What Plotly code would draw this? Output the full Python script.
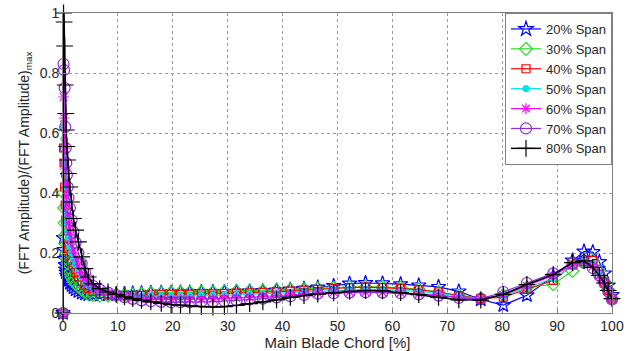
import plotly.graph_objects as go

# Chord positions [% of main blade chord]
chord = [0, 0.1, 0.2, 0.3, 0.4, 0.5, 0.6, 0.7, 0.85,
         1.0, 1.25, 1.55, 1.9, 2.3, 2.8, 3.4, 4.0, 4.6,
         5.5, 6.7, 8.2, 9.7, 11.2, 12.7, 14.3, 16.0, 17.9, 19.7,
         21.4, 23.1, 25.2, 27.3, 29.4, 31.6, 34.0, 36.4, 38.9, 41.4,
         43.9, 46.4, 49.3, 52.2, 55.1, 58.2, 61.5, 64.8, 68.4, 72.1,
         76.1, 80.2, 84.5, 89.3, 92.8, 94.9, 96.5, 97.7, 98.6, 99.3,
         100]

# Normalised FFT amplitude per span station
span20 = [0, 0.25, 0.21, 0.18, 0.16, 0.145, 0.135, 0.125, 0.118,
          0.11, 0.1, 0.092, 0.085, 0.078, 0.072, 0.067, 0.064, 0.062,
          0.061, 0.061, 0.062, 0.063, 0.064, 0.065, 0.066, 0.067, 0.068, 0.068,
          0.069, 0.069, 0.07, 0.07, 0.07, 0.071, 0.072, 0.073, 0.075, 0.078,
          0.081, 0.085, 0.09, 0.098, 0.1, 0.099, 0.096, 0.092, 0.087, 0.072,
          0.045, 0.026, 0.059, 0.122, 0.175, 0.205, 0.203, 0.17, 0.132, 0.092,
          0.06]
span30 = [0, 0.4, 0.35, 0.3, 0.26, 0.23, 0.2, 0.18, 0.165,
          0.15, 0.135, 0.12, 0.108, 0.097, 0.087, 0.078, 0.07, 0.064,
          0.06, 0.058, 0.058, 0.059, 0.06, 0.062, 0.064, 0.066, 0.067, 0.068,
          0.069, 0.069, 0.07, 0.07, 0.071, 0.072, 0.073, 0.074, 0.076, 0.078,
          0.08, 0.082, 0.084, 0.086, 0.087, 0.086, 0.084, 0.079, 0.07, 0.058,
          0.048, 0.06, 0.085, 0.096, 0.14, 0.17, 0.175, 0.14, 0.105, 0.078,
          0.048]
span40 = [0, 0.55, 0.5, 0.42, 0.36, 0.31, 0.28, 0.25, 0.23,
          0.21, 0.19, 0.17, 0.15, 0.135, 0.12, 0.105, 0.092, 0.082,
          0.072, 0.065, 0.06, 0.058, 0.058, 0.058, 0.059, 0.06, 0.061, 0.062,
          0.063, 0.063, 0.064, 0.064, 0.065, 0.066, 0.067, 0.069, 0.071, 0.073,
          0.076, 0.079, 0.082, 0.085, 0.086, 0.085, 0.082, 0.077, 0.07, 0.058,
          0.048, 0.053, 0.079, 0.109, 0.16, 0.172, 0.175, 0.13, 0.1, 0.075,
          0.047]
span50 = [0, 0.62, 0.58, 0.5, 0.42, 0.37, 0.33, 0.3, 0.27,
          0.25, 0.22, 0.2, 0.18, 0.16, 0.14, 0.12, 0.105, 0.093,
          0.08, 0.072, 0.066, 0.062, 0.059, 0.057, 0.056, 0.056, 0.056, 0.056,
          0.057, 0.057, 0.058, 0.058, 0.059, 0.06, 0.062, 0.064, 0.066, 0.068,
          0.07, 0.073, 0.076, 0.078, 0.079, 0.078, 0.076, 0.072, 0.066, 0.055,
          0.048, 0.058, 0.085, 0.115, 0.155, 0.172, 0.165, 0.13, 0.1, 0.075,
          0.047]
span60 = [0, 0.72, 0.65, 0.55, 0.48, 0.43, 0.39, 0.36, 0.33,
          0.3, 0.27, 0.24, 0.21, 0.185, 0.16, 0.135, 0.115, 0.1,
          0.085, 0.074, 0.066, 0.06, 0.055, 0.051, 0.048, 0.046, 0.045, 0.045,
          0.045, 0.045, 0.046, 0.047, 0.048, 0.05, 0.052, 0.055, 0.058, 0.061,
          0.064, 0.067, 0.069, 0.07, 0.07, 0.069, 0.067, 0.064, 0.06, 0.052,
          0.047, 0.06, 0.09, 0.125, 0.16, 0.17, 0.155, 0.125, 0.1, 0.075,
          0.047]
span70 = [0, 0.83, 0.81, 0.75, 0.62, 0.55, 0.5, 0.46, 0.42,
          0.385, 0.35, 0.31, 0.27, 0.235, 0.2, 0.165, 0.135, 0.11,
          0.09, 0.078, 0.068, 0.06, 0.053, 0.047, 0.042, 0.039, 0.037, 0.036,
          0.036, 0.036, 0.037, 0.038, 0.04, 0.042, 0.045, 0.048, 0.052, 0.056,
          0.06, 0.064, 0.066, 0.068, 0.069, 0.068, 0.066, 0.062, 0.058, 0.05,
          0.047, 0.07, 0.1, 0.132, 0.165, 0.168, 0.15, 0.125, 0.1, 0.072,
          0.045]
span80 = [0, 1.0, 0.97, 0.89, 0.76, 0.665, 0.61, 0.555, 0.51,
          0.465, 0.42, 0.37, 0.315, 0.276, 0.237, 0.187, 0.148, 0.12,
          0.098, 0.081, 0.07, 0.062, 0.054, 0.048, 0.042, 0.037, 0.032, 0.028,
          0.026, 0.024, 0.021, 0.02, 0.021, 0.025, 0.031, 0.037, 0.044, 0.052,
          0.058, 0.063, 0.067, 0.072, 0.075, 0.074, 0.068, 0.061, 0.052, 0.044,
          0.043, 0.062, 0.095, 0.128, 0.168, 0.174, 0.152, 0.125, 0.1, 0.075,
          0.048]

names = ["20% Span", "30% Span", "40% Span", "50% Span",
         "60% Span", "70% Span", "80% Span"]
series = [span20, span30, span40, span50, span60, span70, span80]
colors = ["#0000FF", "#22E022", "#FF0000", "#00E5E5",
          "#FF00FF", "#8A2BE2", "#000000"]
symbols = ["star-open", "diamond-open", "square-open", "circle",
           "asterisk-open", "circle-open", "cross-thin-open"]
sizes = [11, 10, 8, 6, 9, 11, 12]

fig = go.Figure()
for name, ys, col, sym, sz in zip(names, series, colors, symbols, sizes):
    fig.add_trace(go.Scatter(
        x=chord, y=ys, name=name, mode="lines+markers",
        line=dict(color=col, width=1.2 if col != "#000000" else 1.5),
        marker=dict(symbol=sym, size=sz, color=col,
                    line=dict(color=col, width=1.2)),
        cliponaxis=False,
    ))

FAMILY = "Liberation Sans, Arial, sans-serif"
INK = "#262626"
tick_font = dict(family=FAMILY, size=14, color=INK)
title_font = dict(family=FAMILY, size=15, color=INK)

axis_common = dict(
    showgrid=True, gridcolor="#9a9a9a", griddash="dot", gridwidth=1,
    zeroline=False, showline=True, linecolor="#808080", linewidth=1,
    mirror=True, ticks="inside", ticklen=4, tickcolor="#808080",
    tickfont=tick_font, automargin=False,
)

fig.update_layout(
    width=631, height=351,
    margin=dict(l=63, r=19, t=13, b=38),
    paper_bgcolor="white", plot_bgcolor="white",
    font=dict(family=FAMILY, size=14, color=INK),
    showlegend=True,
    legend=dict(
        x=1, y=1, xanchor="right", yanchor="top",
        bgcolor="white", bordercolor="#808080", borderwidth=1,
        font=dict(family=FAMILY, size=13, color=INK),
        itemwidth=30, tracegroupgap=0,
    ),
    xaxis=dict(range=[0, 100], dtick=10, tick0=0,
               title=dict(text="Main Blade Chord [%]", standoff=3,
                          font=title_font),
               **axis_common),
    yaxis=dict(range=[0, 1], dtick=0.2, tick0=0,
               title=dict(text="(FFT Amplitude)/(FFT Amplitude)<sub>max</sub>",
                          standoff=6, font=dict(family=FAMILY, size=14, color=INK)),
               **axis_common),
)

fig.write_html("out.html")
